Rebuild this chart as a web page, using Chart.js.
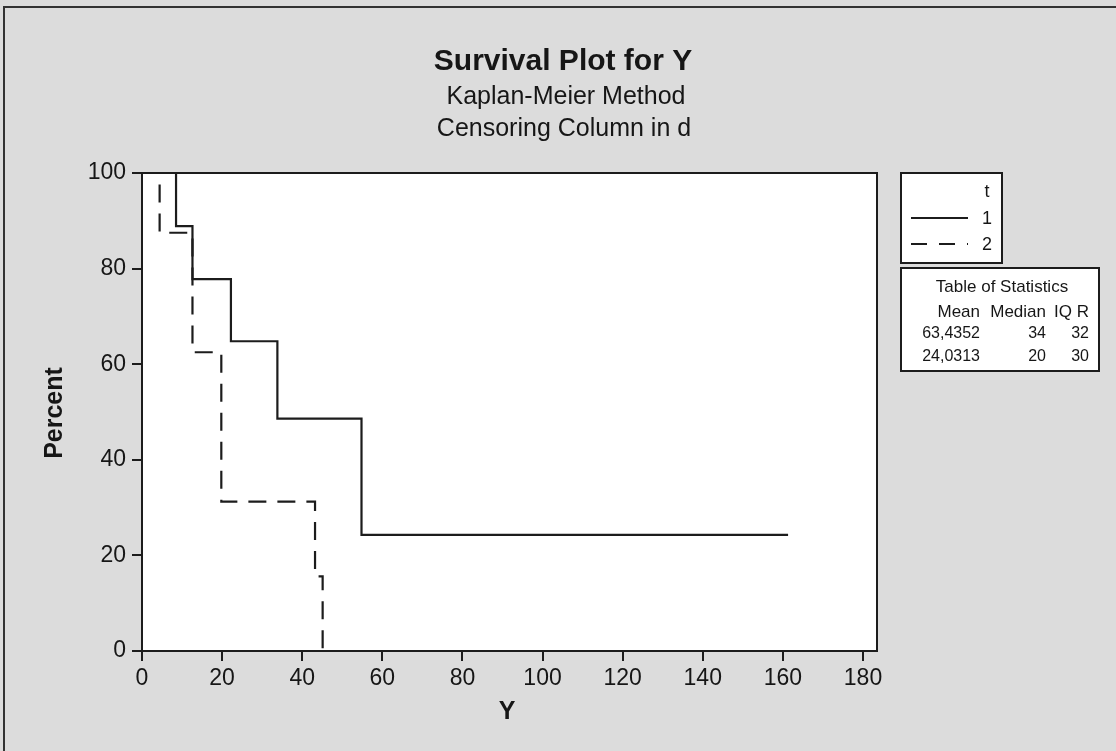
<!DOCTYPE html>
<html>
<head>
<meta charset="utf-8">
<script src="https://cdn.jsdelivr.net/npm/chart.js@4/dist/chart.umd.min.js"></script>
<style>
  html, body { margin: 0; padding: 0; background: #dcdcdc; }
  canvas { display: block; }
</style>
</head>
<body>
<canvas id="c" width="1116" height="751"></canvas>
<script>
// ---- data ----
const titleText = 'Survival Plot for Y';
const subtitleLines = ['Kaplan-Meier Method', 'Censoring Column in d'];
const xAxisTitle = 'Y';
const yAxisTitle = 'Percent';
const legendTitle = 't';
const groupLabels = ['1', '2'];

const t1Times = [0, 8.5, 12.6, 22.2, 33.8, 54.8, 161.3];
const t1Percent = [100, 88.9, 77.8, 64.8, 48.6, 24.3, 24.3];
const t2Times = [0, 4.4, 12.6, 19.8, 43.2, 45.1];
const t2Percent = [100, 87.5, 62.5, 31.25, 15.6, 0];

const statTitle = 'Table of Statistics';
const statHeaders = ['Mean', 'Median', 'IQ R'];
const statMean = ['63,4352', '24,0313'];
const statMedian = ['34', '20'];
const statIQR = ['32', '30'];

const xTickStep = 20;
const yTickStep = 20;

// ---- chart ----
const FONT = '"Liberation Sans", Arial, sans-serif';
const INK = '#1c1c1c';

function zip(xs, ys) { return xs.map((x, i) => ({ x: x, y: ys[i] })); }

const decor = {
  id: 'decor',
  beforeDraw(chart) {
    const ctx = chart.ctx, a = chart.chartArea;
    ctx.save();
    ctx.fillStyle = '#dcdcdc';
    ctx.fillRect(0, 0, chart.width, chart.height);
    // outer page frame lines (top and left)
    ctx.strokeStyle = '#333';
    ctx.lineWidth = 2;
    ctx.beginPath();
    ctx.moveTo(4, chart.height); ctx.lineTo(4, 7); ctx.lineTo(chart.width, 7);
    ctx.stroke();
    ctx.fillStyle = '#ffffff';
    ctx.fillRect(a.left, a.top, a.right - a.left, a.bottom - a.top);
    ctx.restore();
  },
  afterDatasetsDraw(chart) {
    const ctx = chart.ctx, a = chart.chartArea;
    ctx.save();
    // plot frame
    ctx.strokeStyle = INK;
    ctx.lineWidth = 2;
    ctx.strokeRect(a.left, a.top, a.right - a.left, a.bottom - a.top);

    // titles
    ctx.fillStyle = '#161616';
    ctx.textAlign = 'center';
    ctx.textBaseline = 'middle';
    ctx.font = 'bold 30px ' + FONT;
    ctx.fillText(titleText, 563, 62);
    ctx.font = '25px ' + FONT;
    ctx.fillText(subtitleLines[0], 566, 97);
    ctx.fillText(subtitleLines[1], 564, 129);

    // axis titles
    ctx.font = 'bold 25px ' + FONT;
    ctx.fillText(xAxisTitle, 507, 712);
    ctx.save();
    ctx.translate(55, 413);
    ctx.rotate(-Math.PI / 2);
    ctx.fillText(yAxisTitle, 0, 0);
    ctx.restore();

    // legend box
    const lx = 901, ly = 173, lw = 101, lh = 90;
    ctx.fillStyle = '#ffffff';
    ctx.fillRect(lx, ly, lw, lh);
    ctx.strokeStyle = INK;
    ctx.lineWidth = 2;
    ctx.strokeRect(lx, ly, lw, lh);
    ctx.fillStyle = '#161616';
    ctx.font = '18px ' + FONT;
    ctx.textAlign = 'center';
    ctx.fillText(legendTitle, 987, 192);
    const rowsY = [219, 245];
    chart.data.datasets.forEach((ds, i) => {
      ctx.save();
      ctx.strokeStyle = ds.borderColor;
      ctx.lineWidth = 2;
      ctx.setLineDash(i === 1 ? [16, 12] : []);
      ctx.beginPath();
      ctx.moveTo(911, rowsY[i] - 1);
      ctx.lineTo(968, rowsY[i] - 1);
      ctx.stroke();
      ctx.restore();
      ctx.fillText(ds.label, 987, rowsY[i]);
    });

    // statistics table
    const tx = 901, ty = 268, tw = 198, th = 103;
    ctx.fillStyle = '#ffffff';
    ctx.fillRect(tx, ty, tw, th);
    ctx.strokeStyle = INK;
    ctx.lineWidth = 2;
    ctx.strokeRect(tx, ty, tw, th);
    ctx.fillStyle = '#161616';
    ctx.font = '17px ' + FONT;
    ctx.textAlign = 'center';
    ctx.fillText(statTitle, 1002, 287);
    ctx.textAlign = 'right';
    const colX = [980, 1046, 1089];
    statHeaders.forEach((h, i) => ctx.fillText(h, colX[i], 312));
    ctx.font = '16px ' + FONT;
    const rowY = [334, 357];
    for (let r = 0; r < statMean.length; r++) {
      ctx.fillText(statMean[r], colX[0], rowY[r]);
      ctx.fillText(statMedian[r], colX[1], rowY[r]);
      ctx.fillText(statIQR[r], colX[2], rowY[r]);
    }
    ctx.restore();
  }
};

new Chart(document.getElementById('c'), {
  type: 'line',
  data: {
    datasets: [
      {
        label: groupLabels[0],
        data: zip(t1Times, t1Percent),
        borderColor: INK,
        borderWidth: 2.2,
        stepped: true,
        pointRadius: 0,
        fill: false
      },
      {
        label: groupLabels[1],
        data: zip(t2Times, t2Percent),
        borderColor: INK,
        borderWidth: 2.2,
        borderDash: [18, 11],
        stepped: true,
        pointRadius: 0,
        fill: false
      }
    ]
  },
  options: {
    responsive: false,
    animation: false,
    devicePixelRatio: 1,
    layout: { padding: { left: 0, top: 173, right: 239, bottom: 0 } },
    plugins: { legend: { display: false }, title: { display: false }, tooltip: { enabled: false } },
    scales: {
      x: {
        type: 'linear',
        min: 0,
        max: 183.5,
        afterFit(s) { s.height = 100; },
        border: { display: false },
        grid: { drawOnChartArea: false, drawTicks: true, tickLength: 10, lineWidth: 2, color: INK },
        ticks: { stepSize: xTickStep, includeBounds: false, padding: 4, color: '#161616', font: { family: FONT, size: 23 } }
      },
      y: {
        type: 'linear',
        min: 0,
        max: 100,
        afterFit(s) { s.width = 142; },
        border: { display: false },
        grid: { drawOnChartArea: false, drawTicks: true, tickLength: 10, lineWidth: 2, color: INK },
        ticks: { stepSize: yTickStep, padding: 6, color: '#161616', font: { family: FONT, size: 23 } }
      }
    }
  },
  plugins: [decor]
});
</script>
</body>
</html>
